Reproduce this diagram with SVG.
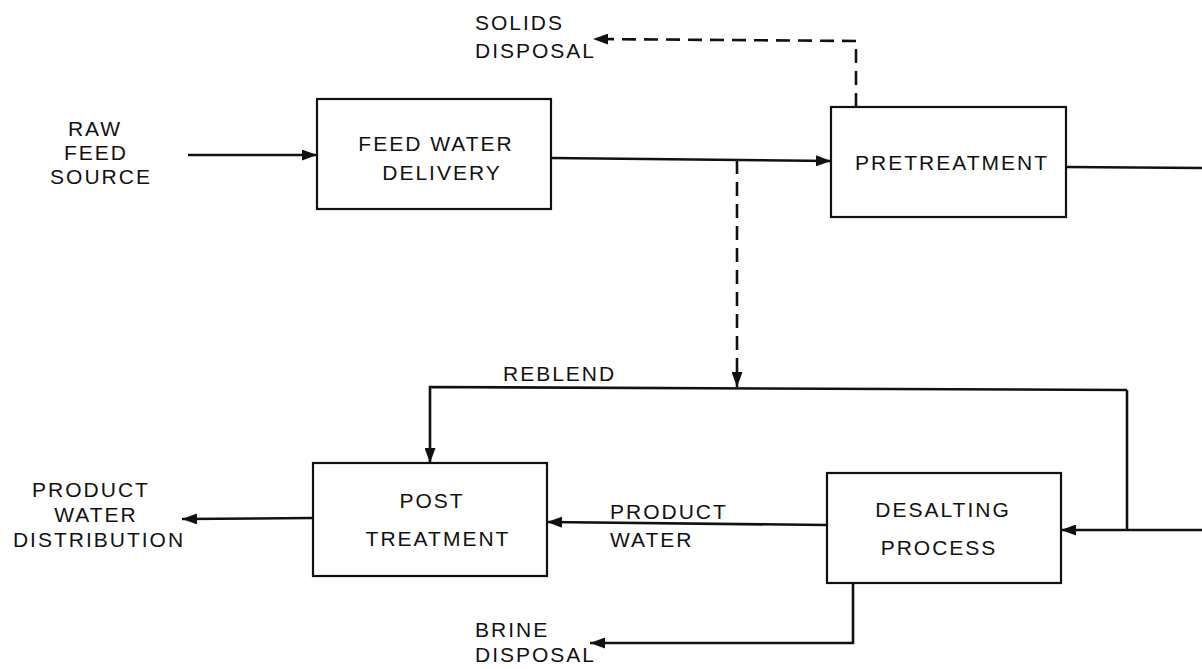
<svg xmlns="http://www.w3.org/2000/svg" width="1202" height="669" viewBox="0 0 1202 669">
<style>
text{font-family:"Liberation Sans",Arial,sans-serif;font-size:21px;fill:#111;letter-spacing:2px}
.box{fill:#fff;stroke:#111;stroke-width:2.2}
.ln{fill:none;stroke:#111;stroke-width:2.6}
.dash{fill:none;stroke:#111;stroke-width:2.6;stroke-dasharray:14 8}
.m{text-anchor:middle}
</style>
<defs>
<marker id="ah" markerWidth="15" markerHeight="11" refX="15" refY="5.5" orient="auto" markerUnits="userSpaceOnUse">
<path d="M0,0 L15,5.5 L0,11 z" fill="#111"/>
</marker>
</defs>
<rect width="1202" height="669" fill="#fff"/>
<g id="connectors">
<path class="ln" d="M188,155 L317,155" marker-end="url(#ah)"/>
<path class="ln" d="M551,158 L831,161" marker-end="url(#ah)"/>
<path class="dash" d="M737,160 L737,387" marker-end="url(#ah)"/>
<path class="ln" d="M1066,167 L1202,168"/>
<path class="dash" d="M856,107 L856,41 L593,39" marker-end="url(#ah)"/>
<path class="ln" d="M1127,390 L430,387 L430,463" marker-end="url(#ah)"/>
<path class="ln" d="M1127,390 L1127,530"/>
<path class="ln" d="M1202,530 L1061,530" marker-end="url(#ah)"/>
<path class="ln" d="M827,525 L547,522" marker-end="url(#ah)"/>
<path class="ln" d="M313,518 L182,519" marker-end="url(#ah)"/>
<path class="ln" d="M853,583 L853,643 L590,643" marker-end="url(#ah)"/>
</g>
<g id="raw-feed-source">
<text class="m" x="95" y="136">RAW</text>
<text class="m" x="96" y="160">FEED</text>
<text class="m" x="101" y="184">SOURCE</text>
</g>
<g id="feed-water-delivery">
<rect class="box" x="317" y="99" width="234" height="110"/>
<text class="m" x="436" y="151">FEED WATER</text>
<text class="m" x="442" y="180">DELIVERY</text>
</g>
<g id="pretreatment">
<rect class="box" x="831" y="107" width="235" height="110"/>
<text class="m" x="952" y="170">PRETREATMENT</text>
</g>
<g id="solids-disposal">
<text x="475" y="30">SOLIDS</text>
<text x="475" y="58">DISPOSAL</text>
</g>
<g id="reblend">
<text x="503" y="381">REBLEND</text>
</g>
<g id="post-treatment">
<rect class="box" x="313" y="463" width="234" height="113"/>
<text class="m" x="432" y="508">POST</text>
<text class="m" x="438" y="546">TREATMENT</text>
</g>
<g id="desalting-process">
<rect class="box" x="827" y="473" width="234" height="110"/>
<text class="m" x="943" y="517">DESALTING</text>
<text class="m" x="939" y="555">PROCESS</text>
</g>
<g id="product-water">
<text x="610" y="519">PRODUCT</text>
<text x="610" y="547">WATER</text>
</g>
<g id="product-water-distribution">
<text class="m" x="91" y="497">PRODUCT</text>
<text class="m" x="96" y="522">WATER</text>
<text class="m" x="99" y="547">DISTRIBUTION</text>
</g>
<g id="brine-disposal">
<text x="475" y="637">BRINE</text>
<text x="475" y="662">DISPOSAL</text>
</g>
</svg>
